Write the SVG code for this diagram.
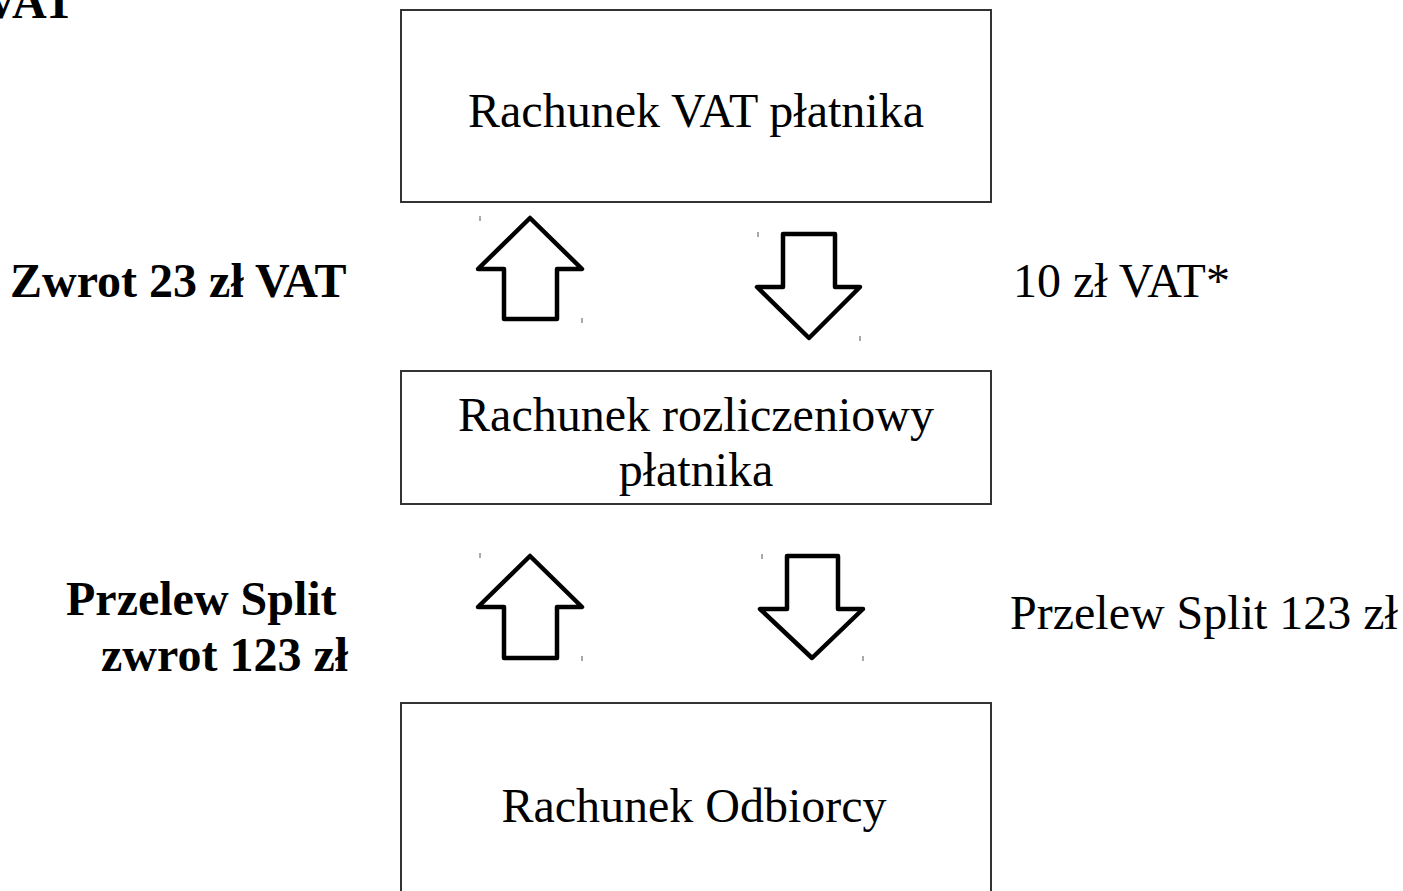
<svg xmlns="http://www.w3.org/2000/svg" width="1403" height="891" viewBox="0 0 1403 891">
<style>
.box{fill:#fff;stroke:#333;stroke-width:2}
.arr{fill:#fff;stroke:#000;stroke-width:4.5;stroke-linejoin:round}
.tick{stroke:#555;stroke-width:1}
text{font-family:"Liberation Serif","Times New Roman",serif;font-size:48px;fill:#000}
.b{font-weight:bold}
</style>
<rect width="1403" height="891" fill="#fff"/>
<g id="node-vat">
<rect class="box" x="401" y="10" width="590" height="192"/>
<text x="696" y="127" text-anchor="middle">Rachunek VAT płatnika</text>
</g>
<g id="node-rozl">
<rect class="box" x="401" y="371" width="590" height="133"/>
<text x="696" y="431" text-anchor="middle">Rachunek rozliczeniowy</text>
<text x="696" y="486" text-anchor="middle">płatnika</text>
</g>
<g id="node-odb">
<rect class="box" x="401" y="703" width="590" height="200"/>
<text x="694" y="822" text-anchor="middle">Rachunek Odbiorcy</text>
</g>
<g id="connectors">
<polygon class="arr" points="530,218 582,269 557,269 557,319 504,319 504,269 478,269"/>
<line class="tick" x1="480" y1="216" x2="480" y2="221"/>
<line class="tick" x1="582" y1="318" x2="582" y2="323"/>
<polygon class="arr" points="783,234 835,234 835,287 860,287 809,338 757,287 783,287"/>
<line class="tick" x1="758" y1="232" x2="758" y2="237"/>
<line class="tick" x1="860" y1="336" x2="860" y2="341"/>
<polygon class="arr" points="530,556 582,607 557,607 557,658 504,658 504,607 478,607"/>
<line class="tick" x1="480" y1="553" x2="480" y2="558"/>
<line class="tick" x1="582" y1="656" x2="582" y2="661"/>
<polygon class="arr" points="787,556 838,556 838,609 863,609 812,658 760,609 787,609"/>
<line class="tick" x1="762" y1="554" x2="762" y2="559"/>
<line class="tick" x1="863" y1="656" x2="863" y2="661"/>
</g>
<g id="labels">
<text class="b" x="75" y="18" text-anchor="end">VAT</text>
<text class="b" x="10" y="297">Zwrot 23 zł VAT</text>
<text x="1013" y="297">10 zł VAT*</text>
<text class="b" x="66" y="615">Przelew Split</text>
<text class="b" x="101" y="671">zwrot 123 zł</text>
<text x="1010" y="629">Przelew Split 123 zł</text>
</g>
</svg>
